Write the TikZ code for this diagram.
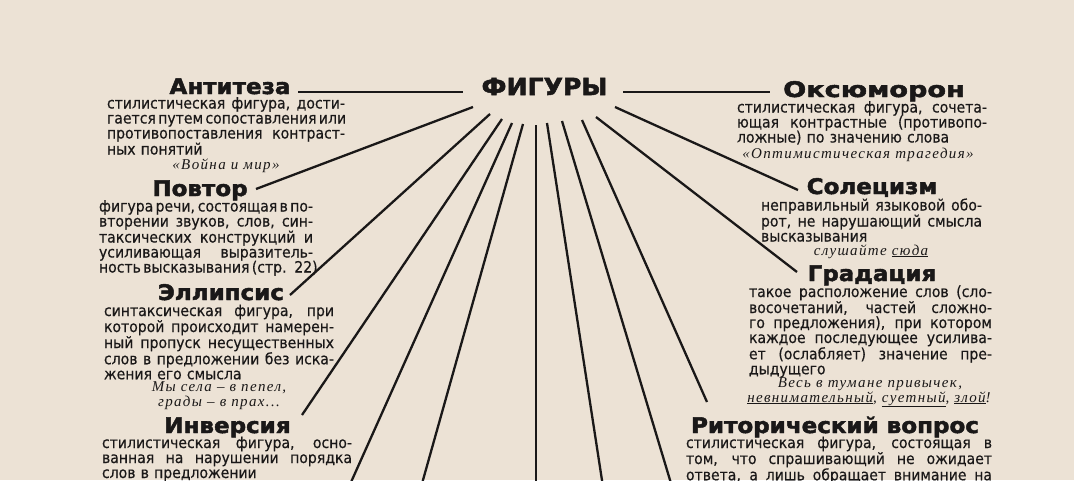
\documentclass[tikz,border=0pt]{standalone}
\usepackage{fontspec}
\setmainfont{DejaVu Sans}
\newfontfamily\bodyf{DejaVu Sans}[FakeStretch=0.905,FakeBold=0.4]
\newfontfamily\titlef{DejaVu Sans}[FakeStretch=1.07,BoldFeatures={FakeBold=2.2}]
\newfontfamily\exf{Liberation Serif}[LetterSpace=9]
\setlength\parindent{0pt}
\definecolor{paper}{RGB}{236,226,213}
\definecolor{ink}{RGB}{26,24,24}
\newcommand\jl[1]{\makebox[\linewidth][s]{\spaceskip=.3em plus 3em minus .15em\relax #1}\par}
\newcommand\jf[1]{\makebox[\linewidth][s]{\spaceskip=.3em plus 3em minus .15em\relax\rule{0pt}{12.5pt}#1}\par}
\newcommand\lf[1]{#1\par}
\tikzset{
  body/.style={font=\bodyf\fontsize{15.5}{15}\selectfont, text=ink, inner sep=0pt, outer sep=0pt, align=left, anchor=north west},
  ttl/.style={font=\titlef\bfseries\fontsize{21.5}{24}\selectfont, text=ink, inner sep=0pt, anchor=base},
  hub/.style={font=\titlef\bfseries\fontsize{23.5}{26}\selectfont, text=ink, inner sep=0pt, anchor=base},
  ex/.style={font=\exf\itshape\fontsize{15}{16}\selectfont, text=ink, inner sep=0pt, anchor=base},
  ray/.style={line width=2.3pt, draw=ink}
}
\begin{document}
\begin{tikzpicture}[x=1pt,y=-1pt]
\useasboundingbox (0,0) rectangle (1074,480);
\clip (0,0) rectangle (1074,480);
\fill[paper] (0,0) rectangle (1074,480);

% titles
\node[hub] (fig) at (544.5,95) {ФИГУРЫ};
\node[ttl] (ant) at (230,94) {Антитеза};
\node[ttl] (oks) at (874,97) {\scalebox{1.18}[1]{Оксюморон}};
\node[ttl] (pov) at (200,196) {Повтор};
\node[ttl] (ell) at (221,300) {Эллипсис};
\node[ttl] (inv) at (227.5,433) {Инверсия};
\node[ttl] (sol) at (872,194) {Солецизм};
\node[ttl] (gra) at (872,281) {Градация};
\node[ttl] (rit) at (835,433) {Риторический вопрос};

% bodies
\node[body, text width=238pt] (antb) at (107,96) {%
\jf{стилистическая фигура, дости-}
\jl{гается путем сопоставления или}
\jl{противопоставления контраст-}
\lf{ных понятий}};
\node[ex] (antx) at (226,169) {«Война и мир»};

\node[body, text width=214pt] (povb) at (99,199) {%
\jf{фигура речи, состоящая в по-}
\jl{вторении звуков, слов, син-}
\jl{таксических конструкций и}
\jl{усиливающая выразитель-}
\jl{ность высказывания (стр. 22)}};

\node[body, text width=230pt] (ellb) at (104,303.5) {%
\jf{синтаксическая фигура, при}
\jl{которой происходит намерен-}
\jl{ный пропуск несущественных}
\jl{слов в предложении без иска-}
\lf{жения его смысла}};
\node[ex] (ellx1) at (219,391) {Мы села – в пепел,};
\node[ex] (ellx2) at (219,406) {грады – в прах...};

\node[body, text width=250pt] (invb) at (102,435.5) {%
\jf{стилистическая фигура, осно-}
\jl{ванная на нарушении порядка}
\lf{слов в предложении}};

\node[body, text width=250pt] (oksb) at (737,100) {%
\jf{стилистическая фигура, сочета-}
\jl{ющая контрастные (противопо-}
\lf{ложные) по значению слова}};
\node[ex] (oksx) at (858,158) {«Оптимистическая трагедия»};

\node[body, text width=221pt] (solb) at (761,198) {%
\jf{неправильный языковой обо-}
\jl{рот, не нарушающий смысла}
\lf{высказывания}};
\node[ex] (solx) at (871,255) {слушайте \underline{сюда}};

\node[body, text width=243pt] (grab) at (749,284.5) {%
\jf{такое расположение слов (сло-}
\jl{восочетаний, частей сложно-}
\jl{го предложения), при котором}
\jl{каждое последующее усилива-}
\jl{ет (ослабляет) значение пре-}
\lf{дыдущего}};
\node[ex] (grax1) at (870,387) {Весь в тумане привычек,};
\node[ex] (grax2) at (869,402) {\underline{невнимательный}, \underline{суетный}, \underline{злой}!};

\node[body, text width=306pt] (ritb) at (686,435.5) {%
\jf{стилистическая фигура, состоящая в}
\jl{том, что спрашивающий не ожидает}
\jl{ответа, а лишь обращает внимание на}};

% connector points
\coordinate (hl1) at (298,92);  \coordinate (hl2) at (463,92);
\coordinate (hr1) at (623,92);  \coordinate (hr2) at (770,92);
\coordinate (s1) at (473,107);  \coordinate (e1) at (256,189);
\coordinate (s2) at (490,114);  \coordinate (e2) at (290,295);
\coordinate (s3) at (502,119);  \coordinate (e3) at (302,415);
\coordinate (s4) at (512,123);  \coordinate (e4) at (347.5,490);
\coordinate (s5) at (523,124);  \coordinate (e5) at (420.2,490);
\coordinate (s6) at (536,125);  \coordinate (e6) at (536,490);
\coordinate (s7) at (547,123);  \coordinate (e7) at (603.5,490);
\coordinate (s8) at (562,121);  \coordinate (e8) at (673,490);
\coordinate (s9) at (582,120);  \coordinate (e9) at (707,402);
\coordinate (s10) at (596,117); \coordinate (e10) at (797,272);
\coordinate (s11) at (615,107); \coordinate (e11) at (798,190);

\draw[ray] (hl1) -- (hl2);
\draw[ray] (hr1) -- (hr2);
\foreach \i in {1,...,11} { \draw[ray] (s\i) -- (e\i); }
\end{tikzpicture}
\end{document}
